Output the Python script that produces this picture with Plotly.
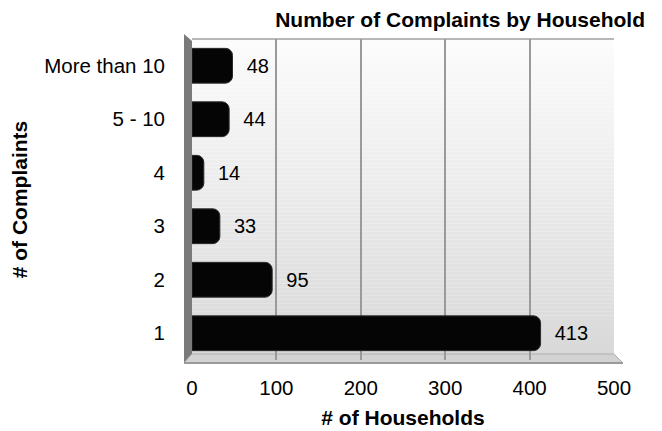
import plotly.graph_objects as go

categories = ["1", "2", "3", "4", "5 - 10", "More than 10"]
households = [413, 95, 33, 14, 44, 48]
x_ticks = [0, 100, 200, 300, 400, 500]

W, H = 662, 431
L, R, T, B = 192, 48, 39, 71
pw = W - L - R
ph = H - T - B
FONT = "Liberation Sans, Arial"

fig = go.Figure()
fig.add_trace(go.Bar(
    y=categories, x=households, orientation="h",
    marker=dict(color="#050505", line=dict(color="#2a2a2a", width=1), cornerradius=7),
    text=households, texttemplate="  %{x}", textposition="outside",
    textfont=dict(family=FONT, size=20, color="#000"),
    cliponaxis=False, hoverinfo="skip",
))

shapes = []
# gradient background of the plot area (white at top to light grey at bottom)
n = 80
for i in range(n):
    t = i / (n - 1)
    g = int(round(252 - t * (252 - 216)))
    shapes.append(dict(type="rect", xref="paper", yref="paper",
                       x0=0, x1=1, y0=1 - (i + 1) / n, y1=1 - i / n,
                       fillcolor=f"rgb({g},{g},{g})", line=dict(width=0), layer="below"))
# left wall (3D)
shapes.append(dict(type="path", xref="paper", yref="paper",
                   path=f"M {-8/pw} {1 + 5/ph} L 0 {1 - 2/ph} L 0 {6/ph} L {-8/pw} {-3/ph} Z",
                   fillcolor="#7a7a7a", line=dict(width=0), layer="below"))
# floor (3D)
shapes.append(dict(type="path", xref="paper", yref="paper",
                   path=f"M 0 {6/ph} L 1 {6/ph} L {1 + 9/pw} {-3/ph} L {-8/pw} {-3/ph} Z",
                   fillcolor="#d2d2d2", line=dict(color="#b0b0b0", width=1), layer="below"))
shapes.append(dict(type="line", xref="paper", yref="paper",
                   x0=-8/pw, x1=1 + 9/pw, y0=-3/ph, y1=-3/ph,
                   line=dict(color="#9a9a9a", width=2), layer="below"))
# top border line
shapes.append(dict(type="line", xref="paper", yref="paper", x0=0, x1=1, y0=1, y1=1,
                   line=dict(color="#a0a0a0", width=1.5), layer="below"))

fig.update_layout(
    width=W, height=H,
    margin=dict(l=L, r=R, t=T, b=B),
    paper_bgcolor="white", plot_bgcolor="rgba(0,0,0,0)",
    bargap=0.35, showlegend=False,
    shapes=shapes,
    title=dict(text="<b>Number of Complaints by Household</b>",
               font=dict(family=FONT, size=21, color="#000"),
               xref="container", x=645 / W, xanchor="right",
               yref="container", y=1 - 20 / H, yanchor="middle"),
    xaxis=dict(range=[0, 500], tickvals=x_ticks, ticktext=[str(v) for v in x_ticks],
               showgrid=True, gridcolor="#9a9a9a", gridwidth=1.5,
               zeroline=False, showline=False, ticks="", automargin=False,
               ticklabelstandoff=13,
               tickfont=dict(family=FONT, size=20.5, color="#000"),
               title=dict(text="<b># of Households</b>", standoff=12,
                          font=dict(family=FONT, size=21, color="#000"))),
    yaxis=dict(categoryorder="array", categoryarray=categories,
               showgrid=False, zeroline=False, showline=False, ticks="", automargin=False,
               ticklabelstandoff=26,
               tickfont=dict(family=FONT, size=20.5, color="#000"),
               title=dict(text="<b># of Complaints</b>", standoff=10,
                          font=dict(family=FONT, size=21, color="#000"))),
)

fig.write_html("out.html", config={"displayModeBar": False},
               post_script="document.body.style.margin='0';")
